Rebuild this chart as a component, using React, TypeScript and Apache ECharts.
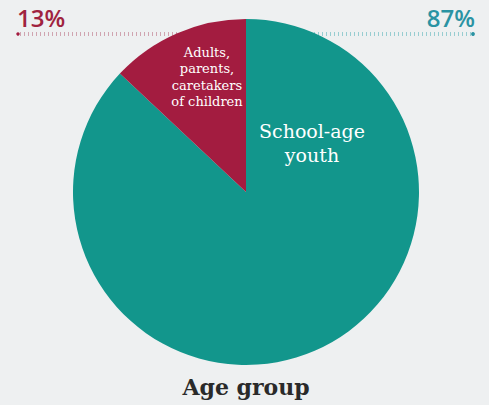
import React, { useEffect, useRef } from "react";
import * as echarts from "echarts";

const categories = ["School-age\nyouth", "Adults,\nparents,\ncaretakers\nof children"];
const values = [87, 13];
const percentLabels = ["87%", "13%"];
const colors = ["#12968c", "#a31c40"];
const title = "Age group";

export default function App() {
  const ref = useRef<HTMLDivElement>(null);
  useEffect(() => {
    const chart = echarts.init(ref.current!, null, { renderer: "svg" });
    chart.setOption({
      animation: false,
      backgroundColor: "#eef0f1",
      series: [
        {
          type: "pie",
          center: [246, 192],
          radius: [0, 173],
          startAngle: 90,
          clockwise: true,
          label: { show: false },
          labelLine: { show: false },
          itemStyle: { borderWidth: 0 },
          emphasis: { disabled: true },
          z: 5,
          data: values.map((v, i) => ({
            value: v,
            name: categories[i],
            itemStyle: { color: colors[i] },
          })),
        },
      ],
      graphic: [
        {
          type: "line",
          z: 1,
          shape: { x1: 20, y1: 34, x2: 246, y2: 34 },
          style: { stroke: "#d0a4b0", lineWidth: 4, lineDash: [1, 3] },
        },
        {
          type: "line",
          z: 1,
          shape: { x1: 246, y1: 34, x2: 471, y2: 34 },
          style: { stroke: "#98cdd1", lineWidth: 4, lineDash: [1, 3] },
        },
        { type: "circle", z: 1, shape: { cx: 18, cy: 34, r: 1.7 }, style: { fill: colors[1] } },
        { type: "circle", z: 1, shape: { cx: 473, cy: 34, r: 1.9 }, style: { fill: "#2a93a3" } },
        {
          type: "text",
          z: 1,
          left: 17,
          top: 5,
          style: {
            text: percentLabels[1],
            fill: "#a0233f",
            font: "600 24px 'Open Sans', sans-serif",
          },
        },
        {
          type: "text",
          z: 1,
          right: 14,
          top: 5,
          style: {
            text: percentLabels[0],
            fill: "#2a93a3",
            font: "600 24px 'Open Sans', sans-serif",
          },
        },
        {
          type: "text",
          z: 10,
          x: 312,
          y: 143,
          style: {
            text: categories[0],
            fill: "#ffffff",
            font: "19px 'DejaVu Serif', serif",
            align: "center",
            verticalAlign: "middle",
            lineHeight: 24,
          },
        },
        {
          type: "text",
          z: 10,
          x: 207,
          y: 77,
          style: {
            text: categories[1],
            fill: "#ffffff",
            font: "13px 'DejaVu Serif', serif",
            align: "center",
            verticalAlign: "middle",
            lineHeight: 16.5,
          },
        },
        {
          type: "text",
          z: 10,
          x: 246,
          y: 387,
          style: {
            text: title,
            fill: "#2a2a2a",
            font: "bold 22px 'DejaVu Serif', serif",
            align: "center",
            verticalAlign: "middle",
          },
        },
      ],
    });
    return () => chart.dispose();
  }, []);
  return (
    <div
      ref={ref}
      style={{ position: "fixed", left: 0, top: 0, width: 489, height: 405 }}
    />
  );
}
